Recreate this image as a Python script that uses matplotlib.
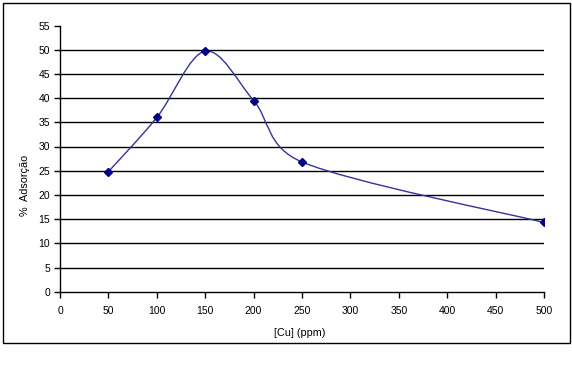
import numpy as np
import matplotlib.pyplot as plt
from matplotlib.path import Path
from matplotlib.patches import PathPatch, Rectangle

plt.rcParams['font.family'] = ['Liberation Sans', 'DejaVu Sans']

# Data
cu_ppm = [50, 100, 150, 200, 250, 500]
adsorption = [24.8, 36.0, 49.7, 39.5, 26.8, 14.3]

x_ticks = [0, 50, 100, 150, 200, 250, 300, 350, 400, 450, 500]
y_ticks = [0, 5, 10, 15, 20, 25, 30, 35, 40, 45, 50, 55]


def smooth_path(ax, xs, ys):
    # Excel-style smoothed line, built in screen space then mapped back to data
    pts = ax.transData.transform(np.column_stack([xs, ys]))
    padded = np.vstack([pts[0], pts, pts[-1]])
    verts = [pts[0]]
    codes = [Path.MOVETO]
    for i in range(1, len(padded) - 2):
        a, b, c, d = padded[i - 1], padded[i], padded[i + 1], padded[i + 2]
        d12 = np.hypot(*(c - b))
        d02 = np.hypot(*(c - a))
        d13 = np.hypot(*(d - b))
        f = 1 / 6 if d02 / 6 < d12 / 2 else d12 / (2 * d02)
        g = 1 / 6 if d13 / 6 < d12 / 2 else d12 / (2 * d13)
        verts += [b + f * (c - a), c - g * (d - b), c]
        codes += [Path.CURVE4] * 3
    verts = ax.transData.inverted().transform(np.array(verts))
    return Path(verts, codes)


fig = plt.figure(figsize=(5.72, 3.84), dpi=100)
ax = fig.add_axes([60 / 572, 1 - 291.7 / 384, 484 / 572, 266.2 / 384])
ax.set_xlim(0, 500)
ax.set_ylim(0, 55)

# chart border
fig.patches.append(Rectangle((3 / 572, 1 - 343 / 384), 567 / 572, 340 / 384,
                             transform=fig.transFigure, fill=False,
                             edgecolor='black', linewidth=1.0))

for y in y_ticks[1:-1]:
    ax.axhline(y, color='black', linewidth=1.0, zorder=1)

ax.add_patch(PathPatch(smooth_path(ax, cu_ppm, adsorption), fill=False,
                       edgecolor='#333399', linewidth=1.0, zorder=2))
ax.plot(cu_ppm, adsorption, linestyle='none', marker='D', markersize=4.5,
        color='#000080', zorder=3)

ax.set_xticks(x_ticks)
ax.set_yticks(y_ticks)
ax.tick_params(labelsize=7.5, length=4, width=1.0, direction='out', pad=3)
ax.tick_params(axis='x', pad=6)

for side in ['top', 'right']:
    ax.spines[side].set_visible(False)
for side in ['left', 'bottom']:
    ax.spines[side].set_linewidth(1.0)

fig.text(300 / 572, 1 - 333 / 384, '[Cu] (ppm)', fontsize=7.8, ha='center', va='center')
fig.text(25 / 572, 1 - 185 / 384, '%  Adsorção', fontsize=7.8, rotation=90,
         ha='center', va='center')

fig.savefig('out.png', dpi=100)
